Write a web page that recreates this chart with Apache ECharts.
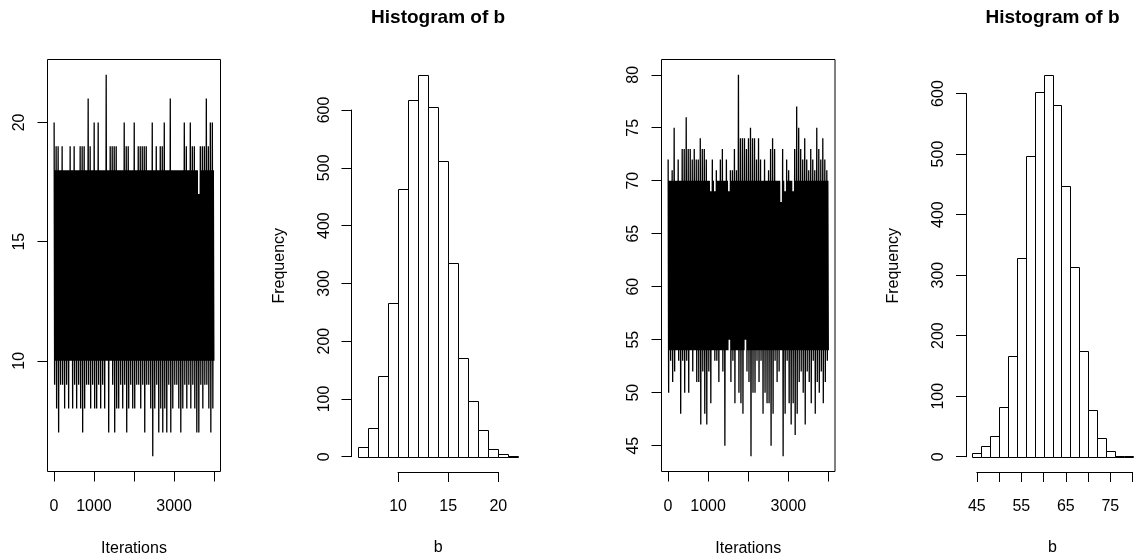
<!DOCTYPE html>
<html>
<head>
<meta charset="utf-8">
<script src="https://cdn.jsdelivr.net/npm/echarts@6/dist/echarts.min.js"></script>
<style>
  html, body { margin: 0; padding: 0; background: #fff; }
  #main { width: 1136px; height: 560px; }
</style>
</head>
<body>
<div id="main"></div>
<script>
// ---- data ----
const iterations = 4000;
const iterTicks = [0, 1000, 2000, 3000, 4000];
const iterLabels = [0, 1000, 3000];

// trace 1: max / min of each block of 50 iterations
const traceHi1 = [20, 19, 19, 18, 19, 18, 18, 18, 19, 18,
                  19, 18, 18, 19, 19, 19, 18, 21, 19, 18,
                  20, 18, 20, 18, 18, 18, 22, 18, 19, 19,
                  19, 19, 18, 18, 18, 20, 19, 19, 18, 18,
                  20, 18, 19, 19, 19, 19, 19, 18, 18, 20,
                  18, 19, 18, 19, 19, 20, 18, 18, 21, 18,
                  18, 18, 18, 18, 18, 20, 19, 18, 20, 19,
                  19, 18, 17, 19, 19, 19, 21, 19, 20, 20];
const traceLo1 = [9, 8, 7, 9, 9, 8, 9, 8, 10, 8,
                  9, 8, 9, 8, 7, 8, 9, 9, 8, 9,
                  8, 8, 9, 8, 9, 8, 10, 7, 10, 9,
                  7, 8, 8, 9, 8, 9, 7, 8, 9, 8,
                  8, 9, 9, 8, 9, 7, 9, 9, 8, 6,
                  8, 9, 7, 8, 7, 8, 7, 9, 7, 8,
                  9, 9, 8, 7, 8, 9, 8, 9, 8, 9,
                  8, 7, 7, 9, 8, 9, 9, 8, 7, 8];
const traceCore1 = [10, 18];
const traceTicks1 = [10, 15, 20];

// trace 2
const traceHi2 = [72, 70, 71, 75, 70, 72, 70, 73, 73, 76,
                  73, 73, 72, 73, 72, 72, 74, 73, 73, 72,
                  70, 69, 72, 69, 71, 70, 72, 73, 70, 72,
                  69, 71, 71, 73, 71, 80, 74, 74, 74, 73,
                  74, 75, 74, 74, 72, 74, 72, 70, 72, 70,
                  71, 73, 74, 73, 70, 70, 68, 73, 69, 72,
                  71, 70, 69, 73, 77, 75, 73, 72, 74, 72,
                  71, 73, 72, 71, 75, 73, 72, 74, 72, 71];
const traceLo2 = [50, 53, 51, 52, 54, 53, 48, 53, 50, 53,
                  50, 54, 52, 54, 51, 51, 47, 52, 48, 47,
                  52, 49, 54, 53, 53, 51, 54, 52, 45, 54,
                  55, 51, 53, 49, 54, 50, 49, 48, 55, 52,
                  51, 44, 50, 50, 53, 51, 53, 48, 50, 49,
                  49, 45, 48, 53, 51, 52, 54, 44, 48, 53,
                  49, 47, 49, 46, 48, 51, 52, 50, 47, 52,
                  51, 49, 53, 48, 51, 50, 52, 49, 51, 53];
const traceCore2 = [54, 70];
const traceTicks2 = [45, 50, 55, 60, 65, 70, 75, 80];

// histograms
const histBreaks1 = [6, 7, 8, 9, 10, 11, 12, 13, 14, 15, 16, 17, 18, 19, 20, 21, 22];
const histCounts1 = [16, 49, 140, 266, 464, 617, 661, 606, 511, 336, 170, 97, 46, 14, 5, 2];
const histXTicks1 = [10, 15, 20];
const histXLabels1 = [10, 15, 20];

const histBreaks2 = [44, 46, 48, 50, 52, 54, 56, 58, 60, 62, 64, 66, 68, 70, 72, 74, 76, 78, 80];
const histCounts2 = [6, 17, 34, 82, 167, 329, 496, 603, 631, 581, 447, 314, 174, 77, 31, 9, 1, 1];
const histXTicks2 = [45, 50, 55, 60, 65, 70, 75, 80];
const histXLabels2 = [45, 55, 65, 75];

const freqTicks = [0, 100, 200, 300, 400, 500, 600];

// ---- layout ----
const FONT = '"Liberation Sans", Arial, Helvetica, sans-serif';
const txt = { color: '#000', fontFamily: FONT, fontSize: 16 };
const plain = v => String(v);
const boxes = [
  { left: 47.5, top: 59.5, width: 173, height: 412 },
  { left: 351.5, top: 59.5, width: 173.3, height: 412.5 },
  { left: 661.5, top: 59.5, width: 173.5, height: 412 },
  { left: 966, top: 59.5, width: 173, height: 412.5 }
];

// R-style axis range: data range extended 4% each side
function pad(a, b) {
  const d = (b - a) * 0.04;
  return [a - d, b + d];
}

const grid = [], xAxis = [], yAxis = [], series = [], title = [];

function tickStyle(values) {
  return { show: true, inside: false, length: 10, customValues: values, lineStyle: { color: '#000', width: 1 } };
}
function lineStyle(show) {
  return { show: show, onZero: false, lineStyle: { color: '#000', width: 1 } };
}

function addTrace(box, hi, lo, core, yTicks) {
  const g = grid.length;
  const step = iterations / hi.length;
  const data = [];
  // each block of iterations: max, min, then a pass over the solid core
  hi.forEach((h, i) => {
    const t = i * step;
    data.push([t + step * 0.125, h]);
    data.push([t + step * 0.375, lo[i]]);
    data.push([t + step * 0.625, Math.min(h, core[1])]);
    data.push([t + step * 0.875, Math.max(lo[i], core[0])]);
  });
  const xr = pad(1, iterations);
  const yr = pad(Math.min(...lo), Math.max(...hi));
  grid.push(Object.assign({ show: true, borderColor: '#000', borderWidth: 1,
    backgroundColor: 'transparent', containLabel: false, outerBoundsMode: 'none' }, box));
  xAxis.push({
    gridIndex: g, type: 'value', min: xr[0], max: xr[1],
    axisLine: lineStyle(false), splitLine: { show: false },
    axisTick: tickStyle(iterTicks),
    axisLabel: Object.assign({ show: true, customValues: iterLabels, margin: 27, formatter: plain }, txt),
    name: 'Iterations', nameLocation: 'middle', nameGap: 69, nameTextStyle: txt
  });
  yAxis.push({
    gridIndex: g, type: 'value', min: yr[0], max: yr[1],
    axisLine: lineStyle(false), splitLine: { show: false },
    axisTick: tickStyle(yTicks),
    axisLabel: Object.assign({ show: true, customValues: yTicks, rotate: 90, margin: 20, formatter: plain }, txt)
  });
  series.push({
    type: 'line', xAxisIndex: g, yAxisIndex: g, data: data,
    symbol: 'none', showSymbol: false, clip: true, silent: true,
    lineStyle: { color: '#000', width: 1.3 }
  });
}

function addHist(box, breaks, counts, xTicks, xLabels, yTicks) {
  const xr = pad(breaks[0], breaks[breaks.length - 1]);
  const yr = pad(0, Math.max(...counts));
  const sx = box.width / (xr[1] - xr[0]);
  const sy = box.height / (yr[1] - yr[0]);

  // plot region: bars, axis names
  const g = grid.length;
  grid.push(Object.assign({ show: false, containLabel: false, outerBoundsMode: 'none' }, box));
  xAxis.push({
    gridIndex: g, type: 'value', min: xr[0], max: xr[1],
    axisLine: lineStyle(false), axisTick: { show: false }, axisLabel: { show: false }, splitLine: { show: false },
    name: 'b', nameLocation: 'middle', nameGap: 68, nameTextStyle: txt
  });
  yAxis.push({
    gridIndex: g, type: 'value', min: yr[0], max: yr[1],
    axisLine: lineStyle(false), axisTick: { show: false }, axisLabel: { show: false }, splitLine: { show: false },
    name: 'Frequency', nameLocation: 'middle', nameRotate: 90, nameGap: 64, nameTextStyle: txt
  });
  series.push({
    type: 'custom', xAxisIndex: g, yAxisIndex: g, silent: true, clip: false,
    data: counts.map((c, i) => [breaks[i], breaks[i + 1], c]),
    encode: { x: [0, 1], y: 2 },
    renderItem: (params, api) => {
      const p0 = api.coord([api.value(0), 0]);
      const p1 = api.coord([api.value(1), api.value(2)]);
      const x0 = Math.round(p0[0]) + 0.5, x1 = Math.round(p1[0]) + 0.5;
      const y0 = Math.round(p0[1]) + 0.5, y1 = Math.round(p1[1]) + 0.5;
      return {
        type: 'rect',
        shape: { x: x0, y: y1, width: x1 - x0, height: y0 - y1 },
        style: { fill: '#fff', stroke: '#000', lineWidth: 1 }
      };
    }
  });

  // x axis spanning only the tick range (R style)
  const gx = grid.length;
  grid.push({
    show: false, containLabel: false, outerBoundsMode: 'none',
    left: box.left + (xTicks[0] - xr[0]) * sx,
    width: (xTicks[xTicks.length - 1] - xTicks[0]) * sx,
    top: box.top, height: box.height
  });
  xAxis.push({
    gridIndex: gx, type: 'value', min: xTicks[0], max: xTicks[xTicks.length - 1],
    axisLine: lineStyle(true), splitLine: { show: false },
    axisTick: tickStyle(xTicks),
    axisLabel: Object.assign({ show: true, customValues: xLabels, margin: 27, formatter: plain }, txt)
  });
  yAxis.push({ gridIndex: gx, type: 'value', min: 0, max: 1, show: false, axisLine: { onZero: false } });

  // y axis spanning only the tick range
  const gy = grid.length;
  grid.push({
    show: false, containLabel: false, outerBoundsMode: 'none',
    left: box.left, width: box.width,
    top: box.top + (yr[1] - yTicks[yTicks.length - 1]) * sy,
    height: (yTicks[yTicks.length - 1] - yTicks[0]) * sy
  });
  xAxis.push({ gridIndex: gy, type: 'value', min: 0, max: 1, show: false, axisLine: { onZero: false } });
  yAxis.push({
    gridIndex: gy, type: 'value', min: yTicks[0], max: yTicks[yTicks.length - 1],
    axisLine: lineStyle(true), splitLine: { show: false },
    axisTick: tickStyle(yTicks),
    axisLabel: Object.assign({ show: true, customValues: yTicks, rotate: 90, margin: 19, formatter: plain }, txt)
  });

  title.push({
    text: 'Histogram of b', left: box.left + box.width / 2, top: 8, textAlign: 'center', padding: 0,
    textStyle: { fontFamily: FONT, fontSize: 19, fontWeight: 'bold', color: '#000' }
  });
}

addTrace(boxes[0], traceHi1, traceLo1, traceCore1, traceTicks1);
addHist(boxes[1], histBreaks1, histCounts1, histXTicks1, histXLabels1, freqTicks);
addTrace(boxes[2], traceHi2, traceLo2, traceCore2, traceTicks2);
addHist(boxes[3], histBreaks2, histCounts2, histXTicks2, histXLabels2, freqTicks);

const chart = echarts.init(document.getElementById('main'));
chart.setOption({
  animation: false,
  backgroundColor: '#fff',
  title: title,
  grid: grid,
  xAxis: xAxis,
  yAxis: yAxis,
  series: series
});
</script>
</body>
</html>
